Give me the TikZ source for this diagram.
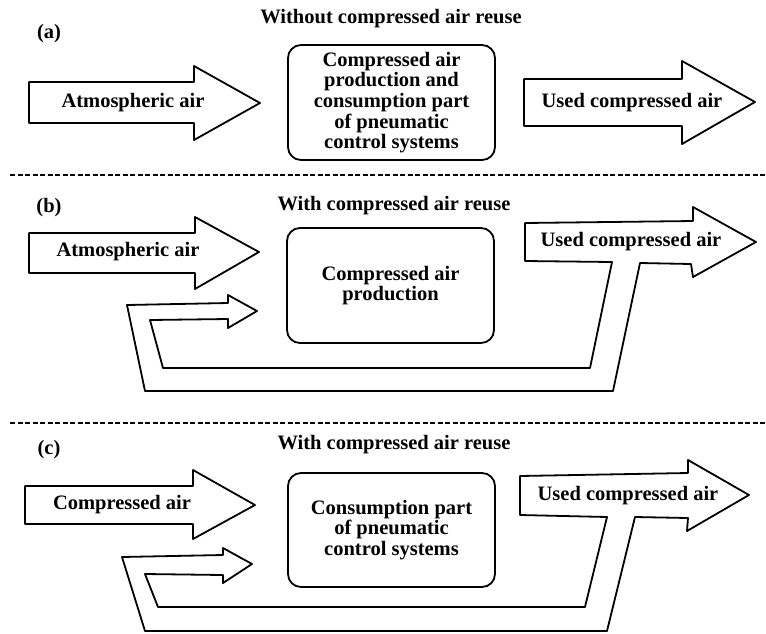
\documentclass[tikz,border=0pt]{standalone}
\usepackage{fontspec}
\setmainfont{Liberation Serif}
\begin{document}
\begin{tikzpicture}[x=1pt,y=-1pt,
  blockarrow/.style={draw=black,line width=1.8pt,line join=round,fill=white},
  procbox/.style={draw=black,line width=1.8pt,rounded corners=13pt,fill=white,
    minimum width=207pt,align=center,inner sep=0pt,
    font=\fontsize{20.5}{20.7}\selectfont\bfseries},
  lbl/.style={font=\fontsize{20.5}{20.7}\selectfont\bfseries,align=center,inner sep=0pt},
  sepline/.style={draw=black,line width=1.1pt,dash pattern=on 5pt off 2.5pt}]
\useasboundingbox (0,0) rectangle (766,633);

% ---------------- panel (a)
\node[lbl] (ta) at (391,19) {Without compressed air reuse};
\node[lbl] (la) at (49,34) {(a)};
\draw[blockarrow] (29,82) -- (194,82) -- (194,66) -- (260,103) -- (194,140) -- (194,123) -- (29,123) -- cycle;
\node[lbl] (ina) at (133,103) {Atmospheric air};
\node[procbox,minimum height=115pt] (boxa) at (391.5,102.5)
  {Compressed air\\production and\\consumption part\\of pneumatic\\control systems};
\draw[blockarrow] (524,79) -- (682,79) -- (682,61) -- (755,102) -- (682,144) -- (682,126) -- (524,126) -- cycle;
\node[lbl] (outa) at (632,103) {Used compressed air};
\draw[sepline] (10,175) -- (766,175);

% ---------------- panel (b)
\node[lbl] (tb) at (394,206) {With compressed air reuse};
\node[lbl] (lb) at (49,208) {(b)};
\draw[blockarrow] (29,233) -- (195,233) -- (195,217) -- (259,252) -- (195,289) -- (195,273) -- (29,273) -- cycle;
\node[lbl] (inb) at (128,252) {Atmospheric air};
\node[procbox,minimum height=115pt] (boxb) at (390.5,285.5) {Compressed air\\production};
\draw[blockarrow] (525,223) -- (693,221) -- (693,207) -- (756,242) -- (693,277) -- (691,264)
  -- (640,263) -- (613,391) -- (145,391) -- (127,305) -- (228,303) -- (228,295) -- (257,311)
  -- (228,328) -- (228,319) -- (150,320) -- (163,368) -- (590,368) -- (612,262) -- (525,261) -- cycle;
\node[lbl] (outb) at (631,242) {Used compressed air};
\draw[sepline] (10,423) -- (766,423);

% ---------------- panel (c)
\node[lbl] (tc) at (394,445) {With compressed air reuse};
\node[lbl] (lc) at (49,450) {(c)};
\draw[blockarrow] (25,486) -- (193,486) -- (193,470) -- (255,505) -- (193,539) -- (193,524) -- (25,524) -- cycle;
\node[lbl] (inc) at (122,505) {Compressed air};
\node[procbox,minimum height=114pt] (boxc) at (391.5,530)
  {Consumption part\\of pneumatic\\control systems};
\draw[blockarrow] (520,476) -- (688,473) -- (688,460) -- (749,495) -- (687,531) -- (688,518)
  -- (635,517) -- (607,631) -- (145,631) -- (122,557) -- (223,555) -- (223,548) -- (252,564)
  -- (223,583) -- (223,575) -- (145,574) -- (158,607) -- (585,607) -- (607,517) -- (520,515) -- cycle;
\node[lbl] (outc) at (628,496) {Used compressed air};
\end{tikzpicture}
\end{document}
